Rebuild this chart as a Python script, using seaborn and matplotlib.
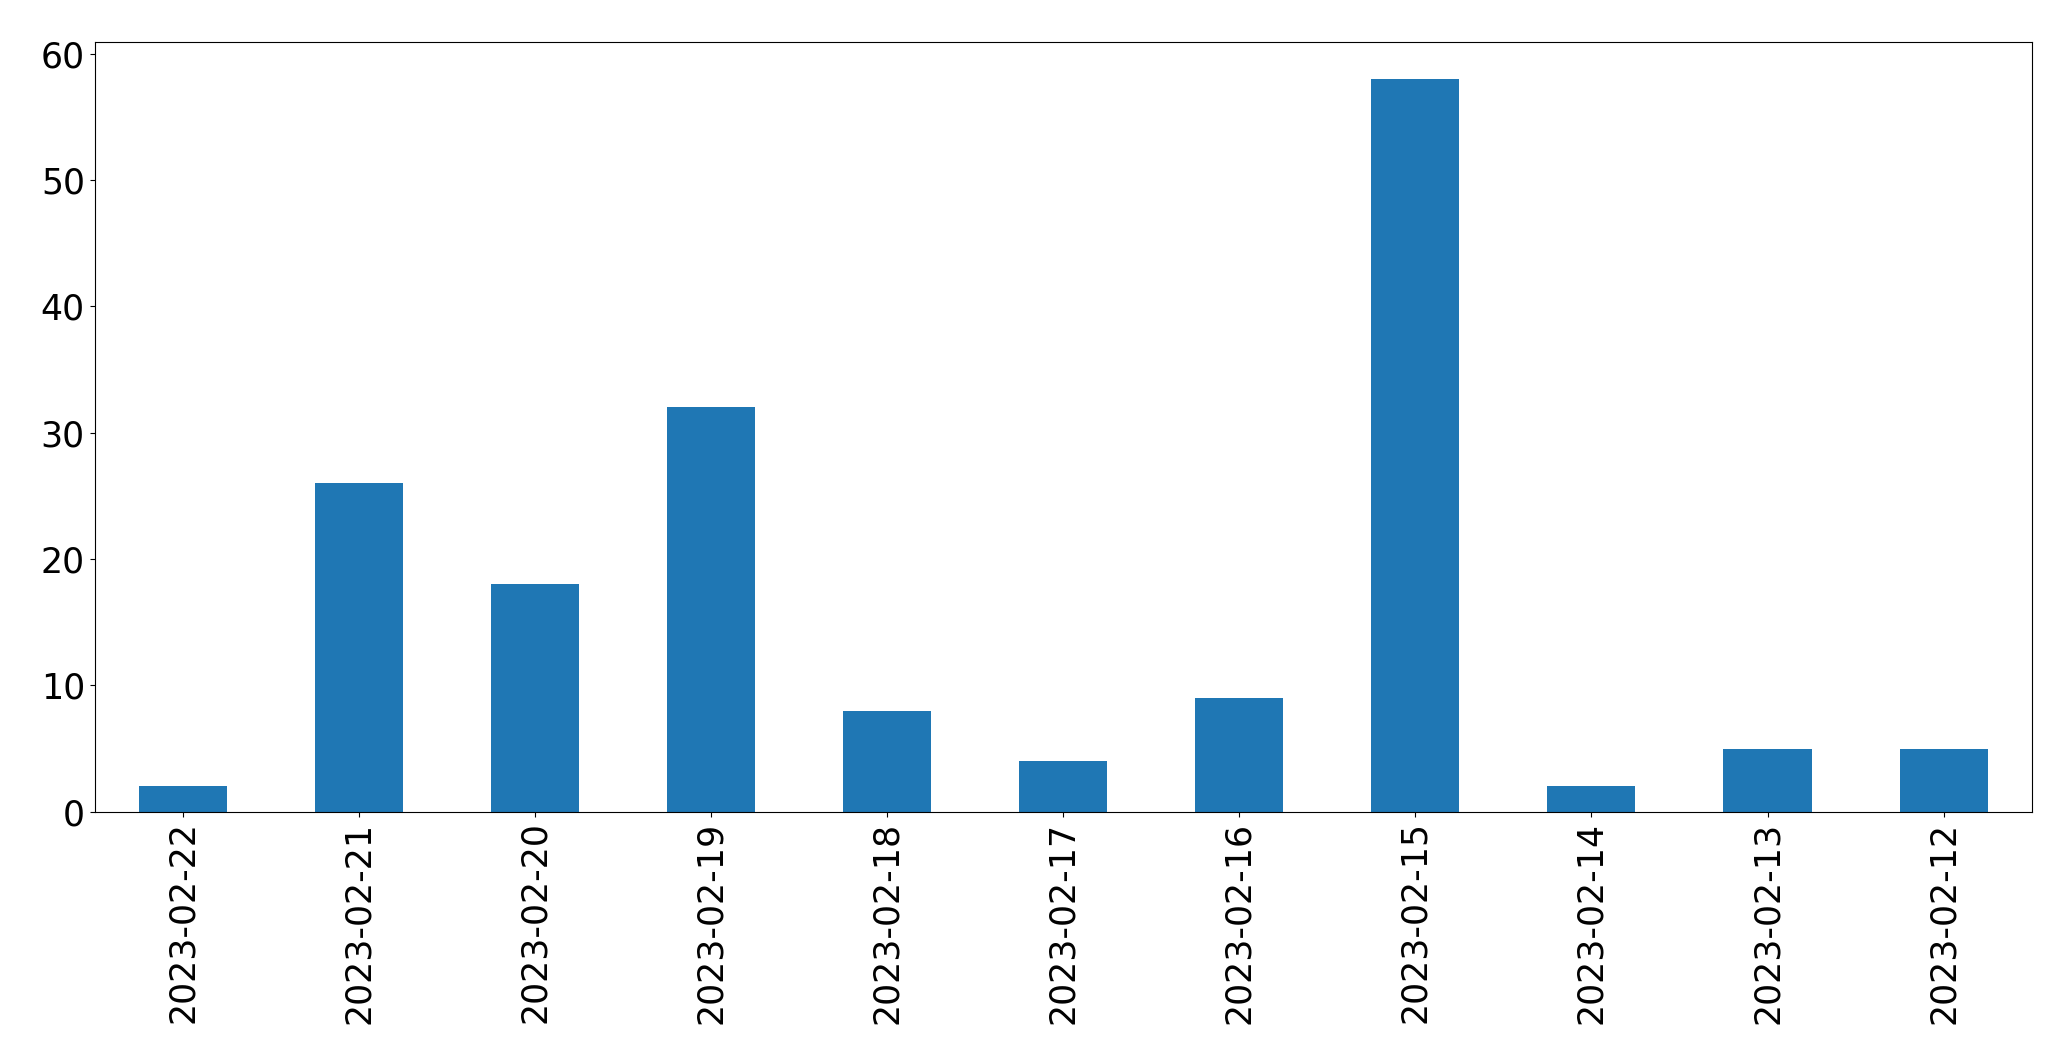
import matplotlib
matplotlib.use("Agg")
import matplotlib.pyplot as plt
import seaborn as sns
import pandas as pd

dates = ["2023-02-22", "2023-02-21", "2023-02-20", "2023-02-19", "2023-02-18",
         "2023-02-17", "2023-02-16", "2023-02-15", "2023-02-14", "2023-02-13",
         "2023-02-12"]
counts = [2, 26, 18, 32, 8, 4, 9, 58, 2, 5, 5]

df = pd.DataFrame({"date": dates, "count": counts})

fig = plt.figure(figsize=(20.71, 10.64), dpi=100)
ax = fig.add_axes([0.0457, 0.2371, 0.981 - 0.0457, 0.9602 - 0.2371])
sns.barplot(data=df, x="date", y="count", order=dates, color="#1f77b4",
            saturation=1, width=0.5, ax=ax)
ax.set_xlim(-0.5, len(dates) - 0.5)
ax.set_ylim(0, max(counts) * 1.05)
ax.set_xlabel("")
ax.set_ylabel("")
ax.tick_params(axis="both", labelsize=25)
plt.setp(ax.get_xticklabels(), rotation=90)
fig.savefig("out.png", dpi=100)
